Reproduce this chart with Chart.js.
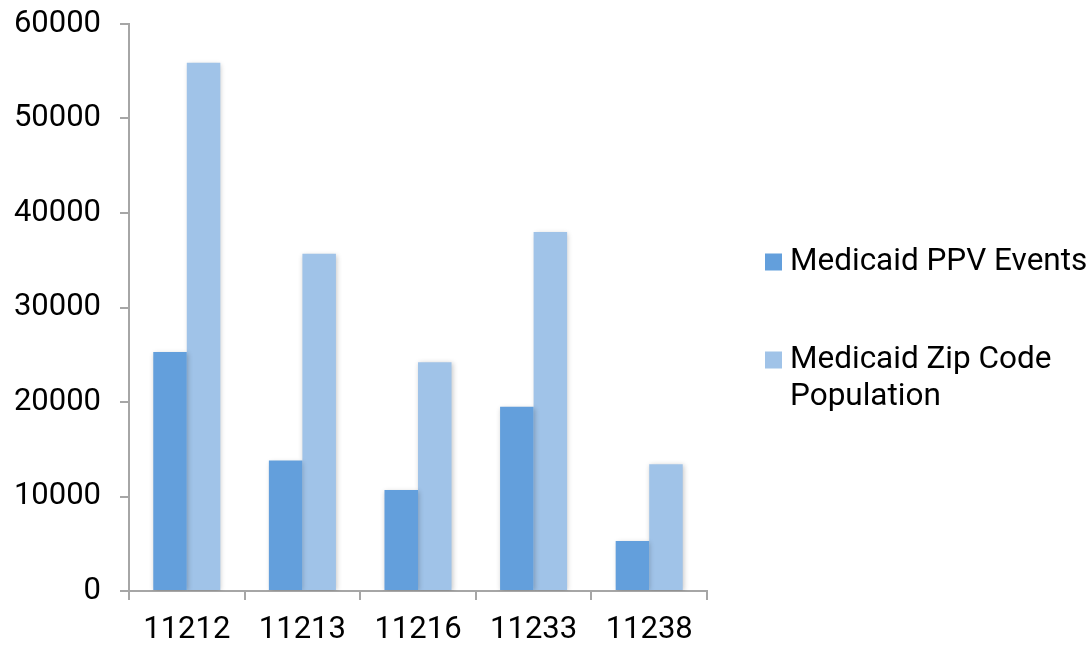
<!DOCTYPE html>
<html>
<head>
<meta charset="utf-8">
<script src="https://cdn.jsdelivr.net/npm/chart.js@4/dist/chart.umd.min.js"></script>
<style>
  html, body { margin: 0; padding: 0; background: #fff; }
  #wrap { width: 1091px; height: 646px; position: relative; }
</style>
</head>
<body>
<div id="wrap"><canvas id="c" width="1091" height="646"></canvas></div>
<script>
// Zip codes and Medicaid figures per zip code
const zipCodes = ['11212', '11213', '11216', '11233', '11238'];
const ppvEvents = [25300, 13800, 10700, 19500, 5300];
const zipPopulation = [55900, 35700, 24200, 38000, 13400];
const seriesNames = ['Medicaid PPV Events', ['Medicaid Zip Code', 'Population']];
const yTicks = [0, 10000, 20000, 30000, 40000, 50000, 60000];

const FONT = 'Roboto, "Noto Sans", sans-serif';
const AXIS = '#a6a6a6';
const colors = ['#639fdc', '#a0c3e8'];

// soft drop shadow behind the bars
const barShadow = {
  id: 'barShadow',
  beforeDatasetsDraw(chart) {
    const ctx = chart.ctx;
    ctx.save();
    ctx.shadowColor = 'rgba(0,0,0,0.22)';
    ctx.shadowBlur = 5;
    ctx.shadowOffsetX = 1;
    ctx.shadowOffsetY = 1;
  },
  afterDatasetsDraw(chart) { chart.ctx.restore(); }
};

// legend on the right, with wrapped labels
const sideLegend = {
  id: 'sideLegend',
  afterDraw(chart) {
    const ctx = chart.ctx;
    ctx.save();
    ctx.font = '31.5px ' + FONT;
    ctx.textBaseline = 'middle';
    ctx.textAlign = 'left';
    const x0 = 765, box = 17, tx = 790, lh = 37;
    const rowsY = [262, 360];
    chart.data.datasets.forEach((ds, i) => {
      const lines = Array.isArray(ds.label) ? ds.label : [ds.label];
      ctx.fillStyle = ds.backgroundColor;
      ctx.fillRect(x0, rowsY[i] - box / 2, box, box);
      ctx.fillStyle = '#000';
      lines.forEach((ln, j) => ctx.fillText(ln, tx, rowsY[i] + j * lh));
    });
    ctx.restore();
  }
};

new Chart(document.getElementById('c'), {
  type: 'bar',
  data: {
    labels: zipCodes,
    datasets: [
      { label: seriesNames[0], data: ppvEvents, backgroundColor: colors[0] },
      { label: seriesNames[1], data: zipPopulation, backgroundColor: colors[1] }
    ]
  },
  options: {
    responsive: false,
    animation: false,
    devicePixelRatio: 1,
    layout: { padding: { top: 24, right: 384, left: 0, bottom: 0 } },
    datasets: { bar: { categoryPercentage: 0.58, barPercentage: 1.0 } },
    plugins: { legend: { display: false }, tooltip: { enabled: false } },
    scales: {
      x: {
        offset: true,
        grid: { offset: true, drawOnChartArea: false, drawTicks: true, tickLength: 9, color: AXIS, lineWidth: 2 },
        border: { display: true, color: AXIS, width: 2 },
        ticks: { color: '#000', font: { family: FONT, size: 31 }, padding: 12, maxRotation: 0 },
        afterFit(s) { s.height = 55; s.paddingLeft = 0; s.paddingRight = 0; }
      },
      y: {
        min: 0, max: 60000,
        afterBuildTicks(s) { s.ticks = yTicks.map(v => ({ value: v })); },
        grid: { drawOnChartArea: false, drawTicks: true, tickLength: 9, color: AXIS, lineWidth: 2 },
        border: { display: true, color: AXIS, width: 2 },
        ticks: { color: '#000', font: { family: FONT, size: 31 }, padding: 19, callback: v => String(v) },
        afterFit(s) { s.width = 129; s.paddingTop = 0; s.paddingBottom = 0; }
      }
    }
  },
  plugins: [barShadow, sideLegend]
});
</script>
</body>
</html>
